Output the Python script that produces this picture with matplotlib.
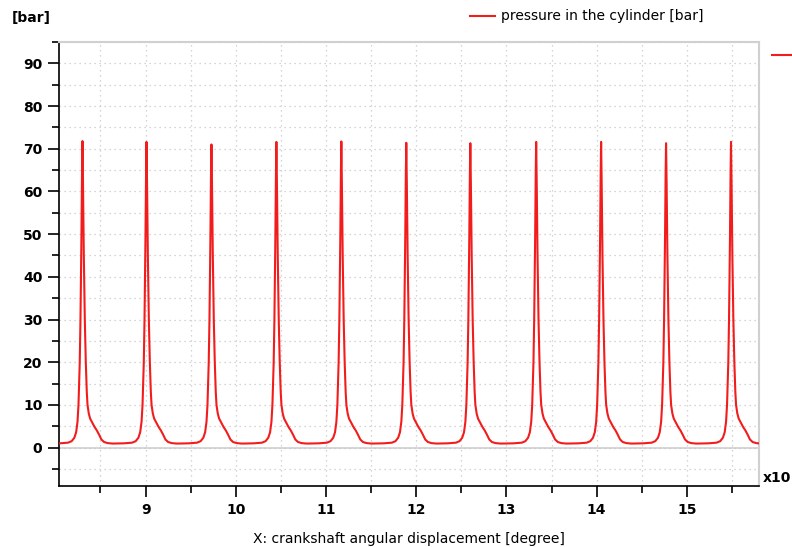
import matplotlib
matplotlib.use("Agg")
import matplotlib.pyplot as plt
from matplotlib.lines import Line2D
from matplotlib.ticker import MultipleLocator
import numpy as np

# peak positions (x10 degree) and peak pressures [bar]
peak_x = [8.30, 9.01, 9.73, 10.45, 11.17, 11.89, 12.60, 13.33, 14.05, 14.77, 15.49]
peak_p = [71.8, 71.6, 71.0, 71.6, 71.7, 71.4, 71.3, 71.6, 71.6, 71.3, 71.6]

# shape of one cycle around the peak: offset from peak (x10 degree) and pressure [bar]
cycle_dx = [-0.36, -0.25, -0.16, -0.12, -0.09, -0.07, -0.055, -0.044, -0.03, -0.022,
            -0.012, -0.005, 0.0, 0.006, 0.015, 0.026, 0.037, 0.048, 0.056, 0.07,
            0.085, 0.11, 0.135, 0.16, 0.185, 0.21, 0.24, 0.28, 0.30, 0.33]
cycle_p = [0.95, 1.0, 1.15, 1.5, 2.3, 3.6, 6.0, 10.0, 20.0, 30.0,
           48.0, 64.0, None, 62.0, 45.0, 30.0, 20.0, 13.0, 10.0, 8.0,
           6.8, 5.8, 4.8, 4.0, 3.0, 1.9, 1.3, 1.05, 1.0, 0.95]

RED = '#f21c1c'
GRID = '#c8c8c8'

x, y = [], []
for px, pp in zip(peak_x, peak_p):
    for dx, p in zip(cycle_dx, cycle_p):
        x.append(px + dx)
        y.append(pp if p is None else p)
x = np.array(x)
y = np.array(y)
keep = (x >= 8.04) & (x <= 15.80)

plt.rcParams['font.family'] = 'DejaVu Sans'

fig = plt.figure(figsize=(7.92, 5.47), dpi=100)
ax = fig.add_axes([0.0745, 0.1115, 0.8838, 0.8117])

ax.axhline(0, color='#d0d0d0', lw=1.2, zorder=1)
ax.plot(x[keep], y[keep], color=RED, lw=1.5, zorder=3)

ax.set_xlim(8.04, 15.80)
ax.set_ylim(-9, 95)
ax.xaxis.set_major_locator(MultipleLocator(1))
ax.xaxis.set_minor_locator(MultipleLocator(0.5))
ax.yaxis.set_major_locator(MultipleLocator(10))
ax.yaxis.set_minor_locator(MultipleLocator(5))
ax.grid(which='both', color=GRID, ls=(0, (1, 3)), lw=0.9)

for s in ['top', 'right']:
    ax.spines[s].set_color('#d0d0d0')
    ax.spines[s].set_linewidth(1.5)
for s in ['left', 'bottom']:
    ax.spines[s].set_color('black')
    ax.spines[s].set_linewidth(1.2)

ax.tick_params(which='major', length=8, width=1.2, direction='out', labelsize=10, pad=4)
ax.tick_params(which='minor', length=5, width=1.2, direction='out')
for lab in ax.get_xticklabels() + ax.get_yticklabels():
    lab.set_fontweight('bold')

ax.set_xlabel('X: crankshaft angular displacement [degree]', fontsize=10, labelpad=11)

fig.text(12 / 792, 1 - 18 / 547, '[bar]', fontsize=10, fontweight='bold', va='center', ha='left')
fig.text(763 / 792, 1 - 478 / 547, 'x10', fontsize=10, fontweight='bold', va='center', ha='left')

# legend at the top
fig.add_artist(Line2D([470 / 792, 495 / 792], [1 - 16 / 547] * 2, color=RED, lw=1.5))
fig.text(501 / 792, 1 - 16 / 547, 'pressure in the cylinder [bar]', fontsize=10, va='center', ha='left')
fig.add_artist(Line2D([772 / 792, 792 / 792], [1 - 55 / 547] * 2, color=RED, lw=1.5))

fig.savefig('out.png', dpi=100)
